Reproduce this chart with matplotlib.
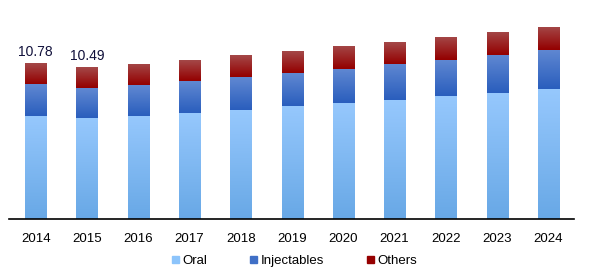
import numpy as np
import matplotlib.pyplot as plt
from matplotlib.colors import LinearSegmentedColormap
from matplotlib.patches import Patch

plt.rcParams['font.family'] = ['Liberation Sans', 'DejaVu Sans']

# === data (USD billion) ===
years = ['2014', '2015', '2016', '2017', '2018', '2019', '2020', '2021', '2022', '2023', '2024']
oral = [7.12, 6.98, 7.12, 7.33, 7.53, 7.81, 8.02, 8.22, 8.50, 8.71, 8.98]
injectables = [2.21, 2.07, 2.14, 2.21, 2.28, 2.28, 2.35, 2.49, 2.49, 2.63, 2.70]
others = [1.45, 1.45, 1.47, 1.45, 1.52, 1.52, 1.59, 1.52, 1.59, 1.59, 1.59]
labels = {0: '10.78', 1: '10.49'}

# gradients: (bottom colour, top colour)
grads = {
    'Oral': ('#68a8e6', '#96c8fd'),
    'Injectables': ('#2a5ebd', '#6088d2'),
    'Others': ('#940000', '#a44848'),
}
solid = {'Oral': '#8cc4fb', 'Injectables': '#3f6fc6', 'Others': '#960000'}

fig = plt.figure(figsize=(5.89, 2.74), dpi=100)
ax = fig.add_axes([9 / 589, 55 / 274, 565 / 589, 209 / 274])

x = np.arange(len(years))
w = 0.41
bottom = np.zeros(len(years))
for name, vals in [('Oral', oral), ('Injectables', injectables), ('Others', others)]:
    bars = ax.bar(x, vals, w, bottom=bottom, color=solid[name], zorder=2)
    cmap = LinearSegmentedColormap.from_list(name, list(grads[name]))
    grad = np.linspace(0, 1, 64).reshape(-1, 1)
    for b in bars:
        x0, y0 = b.get_x(), b.get_y()
        im = ax.imshow(grad, cmap=cmap, origin='lower', aspect='auto',
                       extent=(x0, x0 + b.get_width(), y0, y0 + b.get_height()),
                       zorder=3)
        im.set_clip_path(b)
    bottom += np.array(vals)

# value labels over the first two bars
for i, t in labels.items():
    ax.text(x[i], bottom[i] + 0.3, t, ha='center', va='bottom', fontsize=10, color='#10103a')

ax.set_xlim(-0.52, 10.5)
ax.set_ylim(0, 14.44)
ax.set_xticks(x)
ax.set_xticklabels(years, fontsize=9.5)
ax.tick_params(axis='x', length=0, pad=10)
ax.set_yticks([])
for s in ['top', 'right', 'left']:
    ax.spines[s].set_visible(False)
ax.spines['bottom'].set_linewidth(1.2)
ax.spines['bottom'].set_zorder(5)

handles = [Patch(color=solid[n], label=n) for n in ['Oral', 'Injectables', 'Others']]
fig.legend(handles=handles, loc='center', bbox_to_anchor=(0.5, 13 / 274), ncol=3,
           frameon=False, fontsize=9.5, handlelength=0.5, handleheight=0.5,
           handletextpad=0.25, columnspacing=3.3)

fig.savefig('out.png', dpi=100)
